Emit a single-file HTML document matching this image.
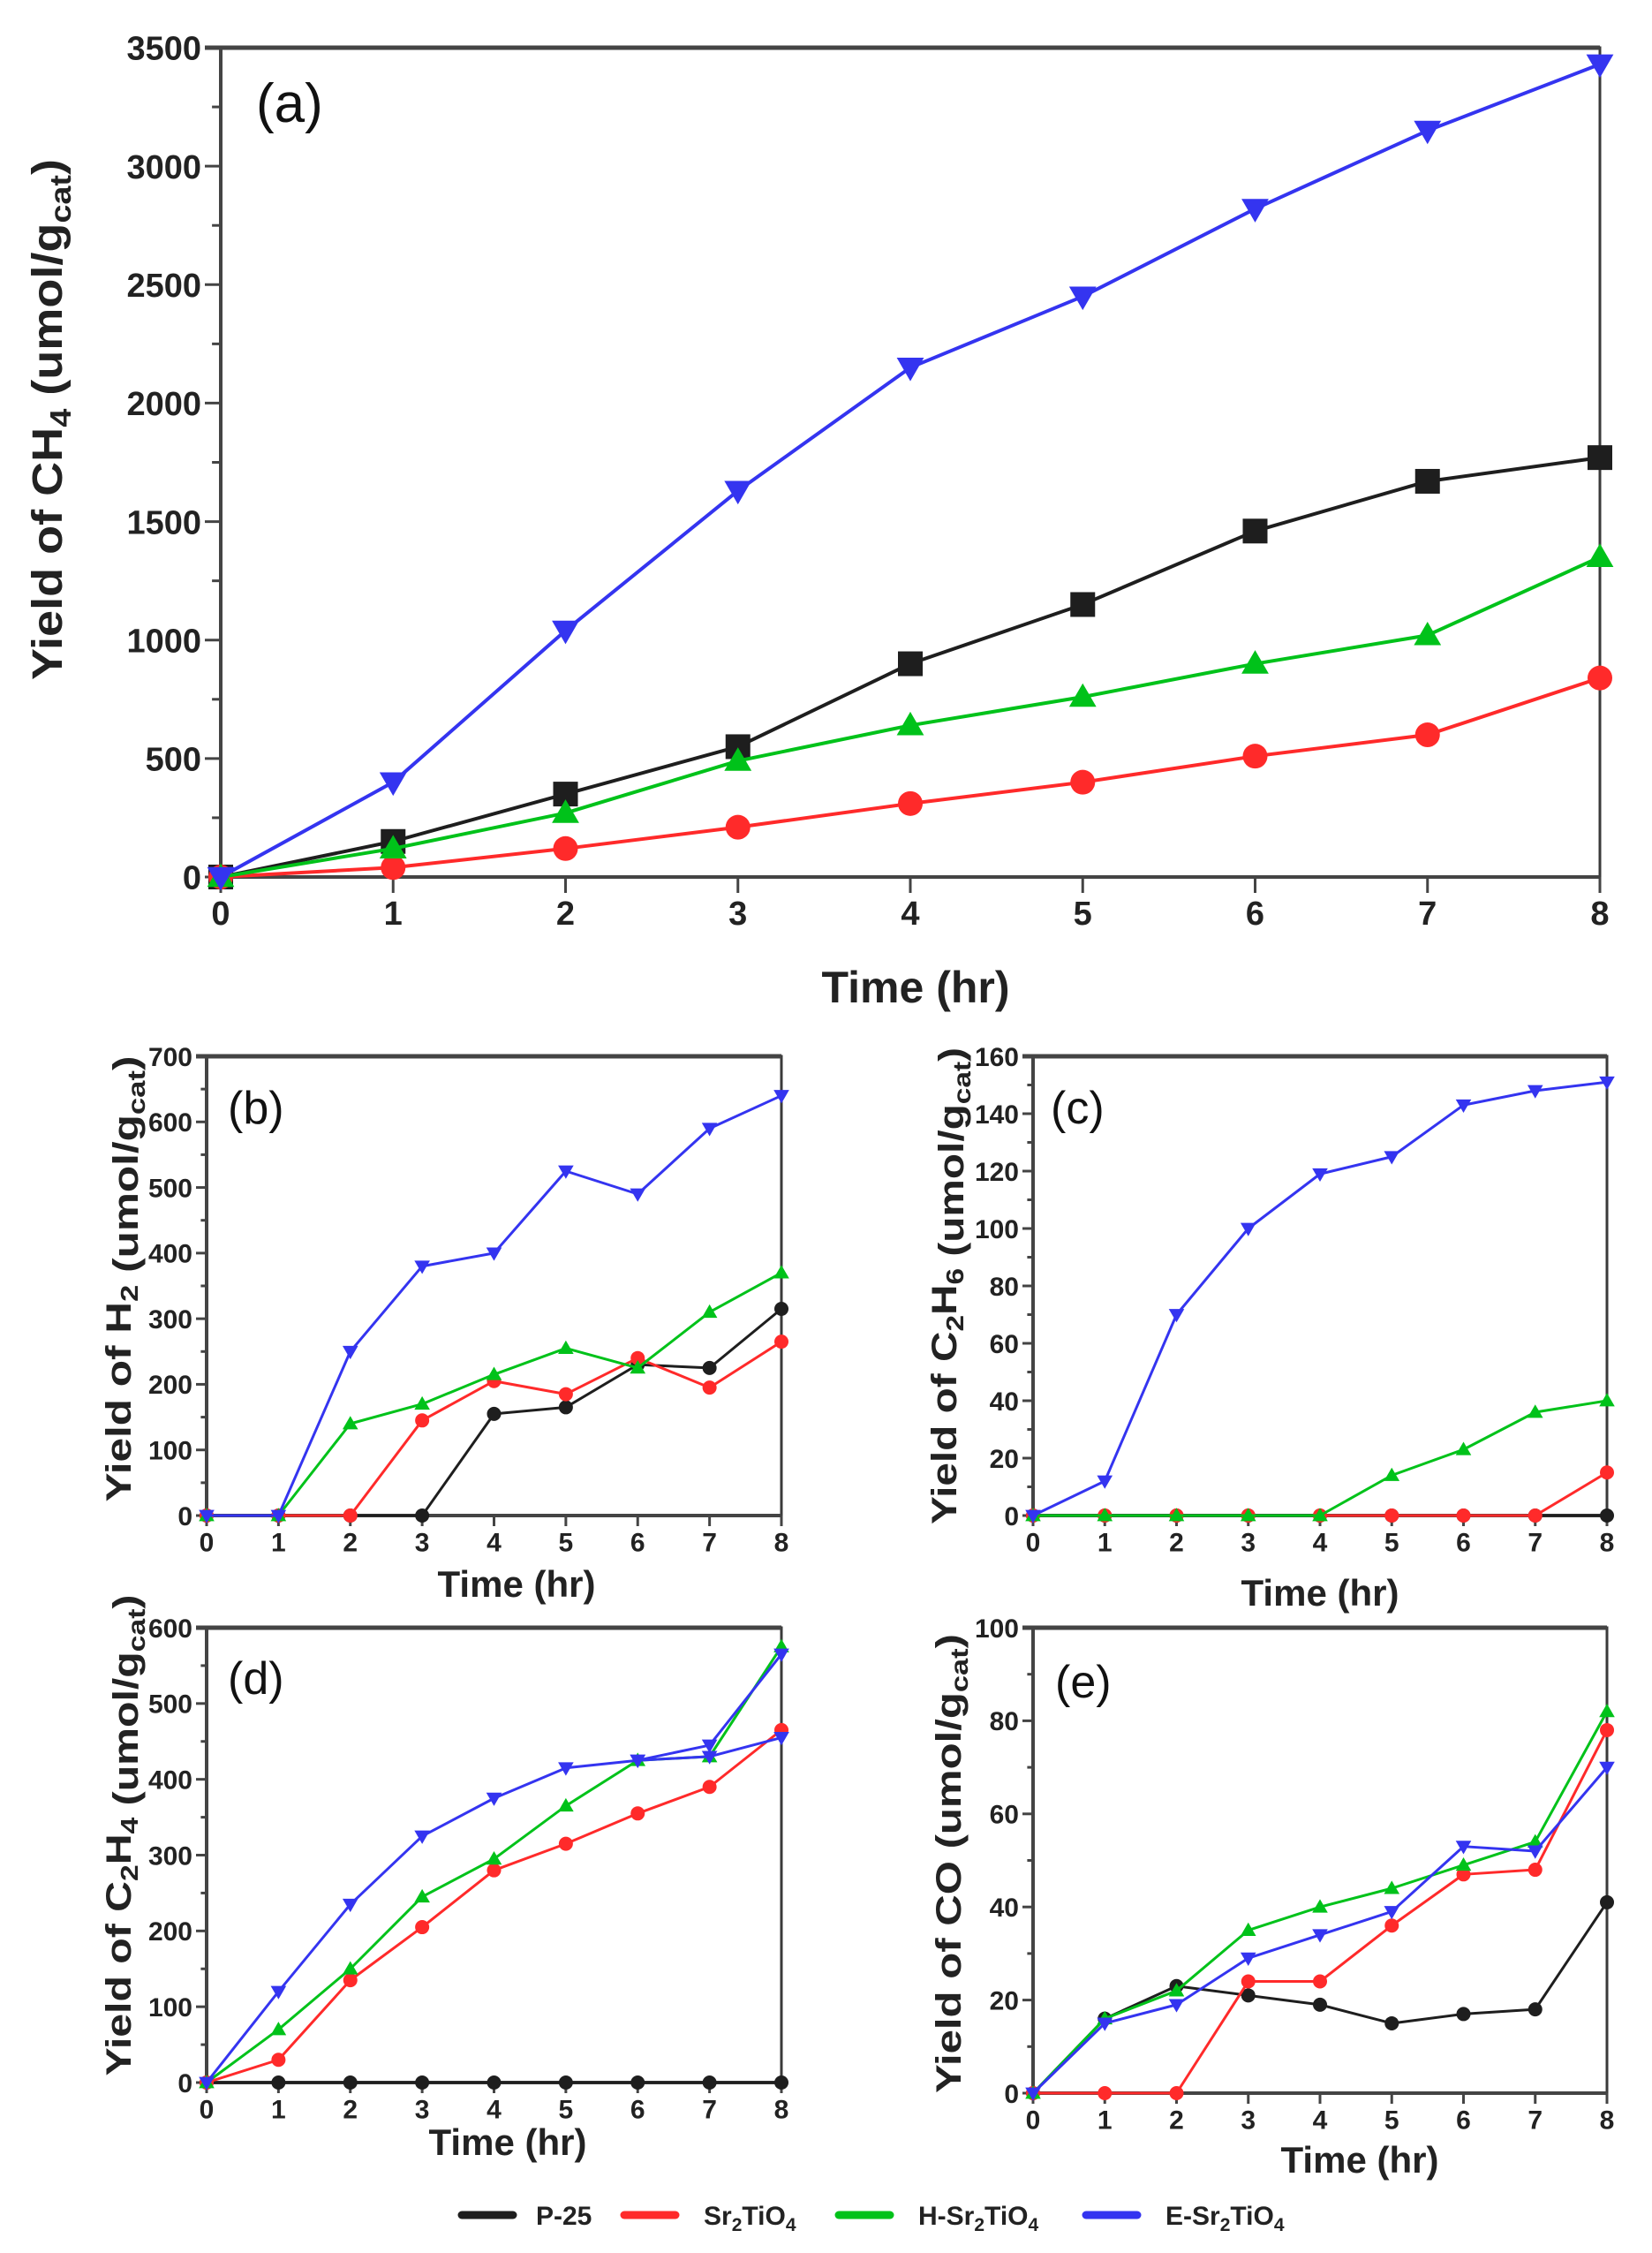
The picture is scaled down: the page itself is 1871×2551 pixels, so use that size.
<!DOCTYPE html>
<html><head><meta charset="utf-8"><style>
html,body{margin:0;padding:0;background:#fff;}
svg{display:block;}
text{font-family:"Liberation Sans",sans-serif;font-weight:bold;fill:#222;}
</style></head><body>
<svg id="s" xmlns="http://www.w3.org/2000/svg" width="1871" height="2551" viewBox="0 0 1871 2551"></svg>
<script>
const S=document.getElementById('s');let h='';
const C={k:'#1e1e1e',r:'#ff2a2a',g:'#00c21a',b:'#3434f0'};
function mk(t,x,y,s,c){
 if(t=='sq')return `<rect x="${x-s}" y="${y-s}" width="${2*s}" height="${2*s}" fill="${c}"/>`;
 if(t=='ci')return `<circle cx="${x}" cy="${y}" r="${s}" fill="${c}"/>`;
 if(t=='up')return `<polygon points="${x},${y-s*1.1} ${x+s*1.1},${y+s*0.8} ${x-s*1.1},${y+s*0.8}" fill="${c}"/>`;
 if(t=='dn')return `<polygon points="${x},${y+s*1.1} ${x+s*1.1},${y-s*0.8} ${x-s*1.1},${y-s*0.8}" fill="${c}"/>`;
}
function panel(o){
 const {L,R,T,B,ymax,step,series,fs,lw,ms,tl}=o;
 const X=i=>L+(R-L)*i/8, Y=v=>B-(B-T)*v/ymax;
 h+=`<rect x="${L}" y="${T}" width="${R-L}" height="${B-T}" fill="none" stroke="#3a3a3a" stroke-width="3"/>`;
 h+=`<line x1="${L-tl}" y1="${T}" x2="${R}" y2="${T}" stroke="#444" stroke-width="5"/>`;
 h+=`<line x1="${L}" y1="${T}" x2="${L}" y2="${B}" stroke="#444" stroke-width="4"/>`;
 h+=`<line x1="${L}" y1="${B}" x2="${R}" y2="${B}" stroke="#444" stroke-width="4"/>`;
 for(let v=0;v<=ymax+1e-9;v+=step/2){
  const maj=Math.abs((v/step)-Math.round(v/step))<1e-6;
  const y=Y(v);h+=`<line x1="${L-(maj?tl:tl*0.55)}" y1="${y}" x2="${L}" y2="${y}" stroke="#444" stroke-width="3"/>`;
  if(maj)h+=`<text x="${L-tl-4}" y="${y+fs*0.36}" font-size="${fs}" text-anchor="end">${Math.round(v)}</text>`;
 }
 for(let i=0;i<=8;i++){const x=X(i);h+=`<line x1="${x}" y1="${B}" x2="${x}" y2="${B+tl}" stroke="#444" stroke-width="3"/>`;
  h+=`<text x="${x}" y="${B+tl+fs*0.95}" font-size="${fs}" text-anchor="middle">${i}</text>`;}
 for(const s of series){
  const pts=s.d.map((v,i)=>v==null?null:`${X(i)},${Y(v)}`).filter(p=>p).join(' ');
  h+=`<polyline points="${pts}" fill="none" stroke="${C[s.c]}" stroke-width="${lw}" stroke-linejoin="round"/>`;
  if(s.m)s.d.forEach((v,i)=>{if(v!=null)h+=mk(s.m,X(i),Y(v),ms,C[s.c]);});
 }
 h+=`<text x="${o.lx}" y="${o.ly}" font-size="${o.lfs}" style="font-weight:normal;fill:#111">${o.lab}</text>`;
 h+=`<text x="${o.tx}" y="${o.ty}" font-size="${o.tfs}" text-anchor="middle">Time (hr)</text>`;
 h+=`<text transform="translate(${o.yx},${o.yy}) rotate(-90)" font-size="${o.yfs}" text-anchor="middle" textLength="${o.ylen}" lengthAdjust="spacingAndGlyphs">${o.ytxt}</text>`;
}
panel({L:250,R:1812,T:54,B:993,ymax:3500,step:500,fs:38,lw:4,ms:14,tl:18,
 lab:'(a)',lx:290,ly:138,lfs:62,tx:1037,ty:1135,tfs:50,yx:70,yy:475,yfs:48,ylen:590,
 ytxt:'Yield of CH<tspan font-size="70%" dy="10">4</tspan><tspan dy="-10"> (umol/g</tspan><tspan font-size="70%" dy="10">cat</tspan><tspan dy="-10">)</tspan>',
 series:[{c:'k',m:'sq',d:[0,150,350,550,900,1150,1460,1670,1770]},
 {c:'r',m:'ci',d:[0,40,120,210,310,400,510,600,840]},
 {c:'g',m:'up',d:[0,120,270,490,640,760,900,1020,1350]},
 {c:'b',m:'dn',d:[0,400,1040,1630,2150,2450,2820,3150,3430]}]});
const sm={fs:30,lw:3,ms:8,tl:12,lfs:52,tfs:42,yfs:40};
const yl=(g)=>`Yield of ${g} (umol/g<tspan font-size="70%" dy="8">cat</tspan><tspan dy="-8">)</tspan>`;
panel(Object.assign({},sm,{L:234,R:885,T:1196,B:1716,ymax:700,step:100,lab:'(b)',lx:258,ly:1272,tx:585,ty:1808,yx:148,yy:1448,ylen:505,
 ytxt:yl('H<tspan font-size="70%" dy="8">2</tspan><tspan dy="-8"></tspan>'),
 series:[{c:'k',m:'ci',d:[0,0,0,0,155,165,230,225,315]},{c:'r',m:'ci',d:[0,0,0,145,205,185,240,195,265]},
 {c:'g',m:'up',d:[0,0,140,170,215,255,225,310,370]},{c:'b',m:'dn',d:[0,0,250,380,400,525,490,590,640]}]}));
panel(Object.assign({},sm,{L:1170,R:1820,T:1196,B:1716,ymax:160,step:20,lab:'(c)',lx:1190,ly:1272,tx:1495,ty:1818,yx:1083,yy:1456,ylen:540,
 ytxt:yl('C<tspan font-size="70%" dy="8">2</tspan><tspan dy="-8">H</tspan><tspan font-size="70%" dy="8">6</tspan><tspan dy="-8"></tspan>'),
 series:[{c:'k',m:'ci',d:[0,0,0,0,0,0,0,0,0]},{c:'r',m:'ci',d:[0,0,0,0,0,0,0,0,15]},
 {c:'g',m:'up',d:[0,0,0,0,0,14,23,36,40]},{c:'b',m:'dn',d:[0,12,70,100,119,125,143,148,151]}]}));
panel(Object.assign({},sm,{L:234,R:885,T:1843,B:2358,ymax:600,step:100,lab:'(d)',lx:258,ly:1918,tx:575,ty:2440,yx:148,yy:2078,ylen:545,
 ytxt:yl('C<tspan font-size="70%" dy="8">2</tspan><tspan dy="-8">H</tspan><tspan font-size="70%" dy="8">4</tspan><tspan dy="-8"></tspan>'),
 series:[{c:'k',m:'ci',d:[0,0,0,0,0,0,0,0,0]},{c:'r',m:'ci',d:[0,30,135,205,280,315,355,390,465]},
 {c:'g',m:'up',d:[0,70,150,245,295,365,425,430,575]},{c:'b',m:'dn',d:[0,120,235,325,375,415,425,445,565]},
 {c:'b',m:'dn',d:[null,null,null,null,null,null,425,430,455]}]}));
panel(Object.assign({},sm,{L:1170,R:1820,T:1843,B:2370,ymax:100,step:20,lab:'(e)',lx:1195,ly:1922,tx:1540,ty:2460,yx:1088,yy:2110,ylen:520,
 ytxt:yl('CO'),
 series:[{c:'k',m:'ci',d:[0,16,23,21,19,15,17,18,41]},{c:'r',m:'ci',d:[0,0,0,24,24,36,47,48,78]},
 {c:'g',m:'up',d:[0,16,22,35,40,44,49,54,82]},{c:'b',m:'dn',d:[0,15,19,29,34,39,53,52,70]}]}));
const lg=[['k',523,607,'P-25'],['r',707,797,'Sr<tspan font-size="70%" dy="7">2</tspan><tspan dy="-7">TiO</tspan><tspan font-size="70%" dy="7">4</tspan>'],
 ['g',950,1040,'H-Sr<tspan font-size="70%" dy="7">2</tspan><tspan dy="-7">TiO</tspan><tspan font-size="70%" dy="7">4</tspan>'],
 ['b',1230,1320,'E-Sr<tspan font-size="70%" dy="7">2</tspan><tspan dy="-7">TiO</tspan><tspan font-size="70%" dy="7">4</tspan>']];
for(const [c,x,tx,t] of lg){h+=`<line x1="${x}" y1="2508" x2="${x+58}" y2="2508" stroke="${C[c]}" stroke-width="9" stroke-linecap="round"/>`;
 h+=`<text x="${tx}" y="2519" font-size="30">${t}</text>`;}
S.innerHTML=h;
</script>
</body></html>
